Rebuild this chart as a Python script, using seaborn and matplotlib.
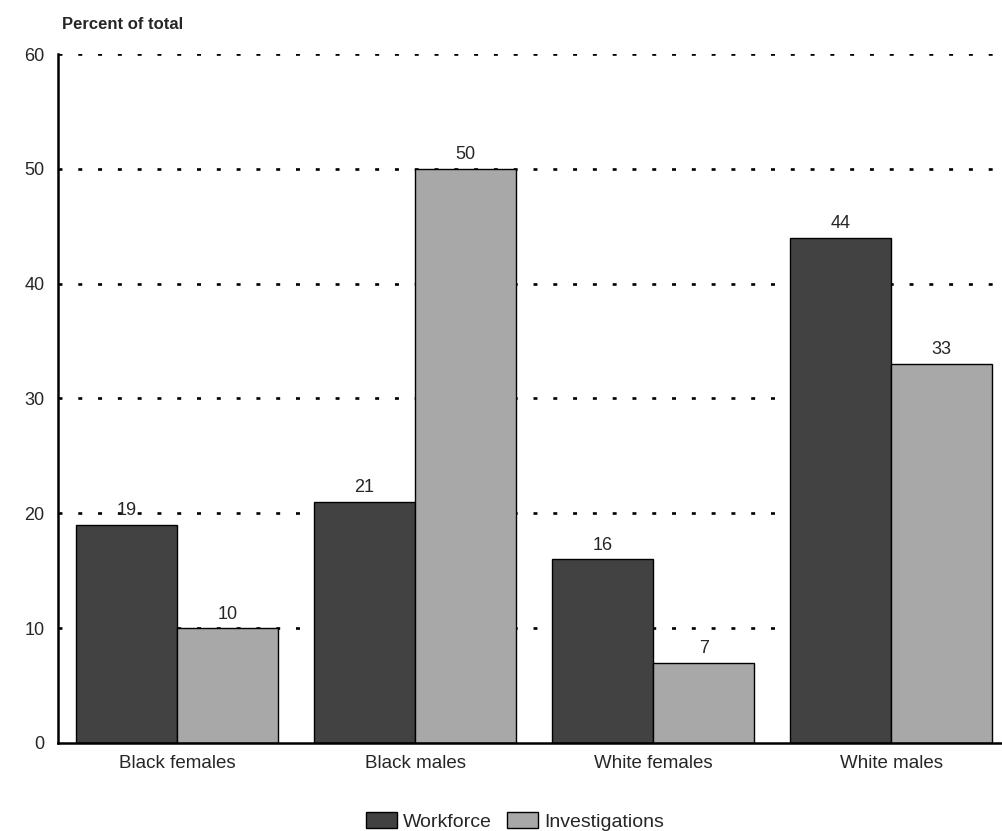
import pandas as pd
import matplotlib.pyplot as plt
import seaborn as sns

# Chart data
groups = ['Black females', 'Black males', 'White females', 'White males']
workforce = [19, 21, 16, 44]
investigations = [10, 50, 7, 33]
series = ['Workforce', 'Investigations']
y_ticks = [0, 10, 20, 30, 40, 50, 60]

df = pd.DataFrame({
    'group': groups * 2,
    'series': ['Workforce'] * len(groups) + ['Investigations'] * len(groups),
    'value': workforce + investigations,
})

sns.set_style('white')
plt.rcParams['font.family'] = ['Liberation Sans', 'DejaVu Sans']

fig = plt.figure(figsize=(10.03, 8.31), dpi=100)
ax = fig.add_axes([0.058, 0.106, 0.949, 0.829])

sns.barplot(data=df, x='group', y='value', hue='series', order=groups,
            hue_order=series, palette=['#424242', '#a8a8a8'],
            edgecolor='black', linewidth=1, width=0.85, ax=ax,
            saturation=1, errorbar=None)

# value labels on top of bars
for container in ax.containers:
    ax.bar_label(container, fmt='%d', padding=4, fontsize=13)

ax.set_ylim(0, 60)
ax.set_xlim(-0.5, 3.5)
ax.set_yticks(y_ticks)
ax.tick_params(axis='y', length=0, labelsize=13, pad=10)
ax.tick_params(axis='x', length=0, labelsize=13.5, pad=9)
ax.set_xlabel('')
ax.set_ylabel('')

# dotted gridlines
for y in y_ticks[1:]:
    ax.axhline(y, color='black', linestyle=(0, (1.5, 6)), linewidth=1.9, zorder=0)

sns.despine(ax=ax, top=True, right=True)
for side in ['left', 'bottom']:
    ax.spines[side].set_color('black')
    ax.spines[side].set_linewidth(1.8)

fig.text(0.062, 0.97, 'Percent of total', fontsize=12, fontweight='bold',
         va='center', ha='left')

ax.legend(loc='lower center', bbox_to_anchor=(0.48, -0.153), ncol=2,
          frameon=False, fontsize=14, handlelength=1.6, handleheight=0.9,
          handletextpad=0.3, columnspacing=0.8)

plt.savefig('out.png', dpi=100)
